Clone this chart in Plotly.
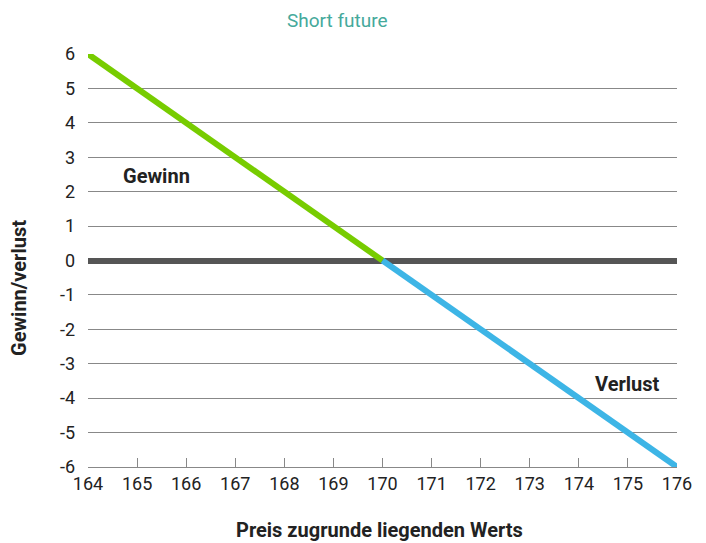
import plotly.graph_objects as go

x_gain = [164, 170]
y_gain = [6, 0]
x_loss = [170, 176]
y_loss = [0, -6]
x_ticks = list(range(164, 177))
y_ticks = list(range(-6, 7))

font_family = "Roboto, 'Noto Sans', sans-serif"

# page body has an 8px margin, so the figure is 8px smaller and margins shifted
L, R, T, B = 80, 29, 46, 76
W, H = 698, 535
plot_w = W - L - R
plot_h = H - T - B
OFF = 8


def px_x(page_x):
    return (page_x - OFF - L) / plot_w


def px_y(page_y):
    return 1 - (page_y - OFF - T) / plot_h


fig = go.Figure()
fig.add_trace(go.Scatter(x=x_gain, y=y_gain, mode="lines",
                         line=dict(color="#77cc00", width=6), cliponaxis=False,
                         hoverinfo="skip", showlegend=False))
fig.add_trace(go.Scatter(x=x_loss, y=y_loss, mode="lines",
                         line=dict(color="#3db5e6", width=6), cliponaxis=False,
                         hoverinfo="skip", showlegend=False))

fig.update_layout(
    width=W, height=H,
    margin=dict(l=L, r=R, t=T, b=B, autoexpand=False),
    paper_bgcolor="white", plot_bgcolor="white",
    font=dict(family=font_family, size=15, color="#222"),
    showlegend=False,
    annotations=[
        dict(text="Short future", x=px_x(337), y=px_y(OFF), borderpad=0,
             xref="paper", yref="paper",
             showarrow=False, font=dict(size=19, color="#45a99b"), xanchor="center", yanchor="top"),
        dict(text="<b>Preis zugrunde liegenden Werts</b>", x=px_x(379), y=px_y(530),
             xref="paper", yref="paper",
             showarrow=False, font=dict(size=20, color="#222"), xanchor="center", yanchor="middle"),
        dict(text="<b>Gewinn/verlust</b>", x=px_x(19), y=px_y(288), textangle=-90,
             xref="paper", yref="paper",
             showarrow=False, font=dict(size=20, color="#222"), xanchor="center", yanchor="middle"),
        dict(text="<b>Gewinn</b>", x=165.4, y=2.45, xref="x", yref="y", showarrow=False,
             font=dict(size=20, color="#222"), xanchor="center", yanchor="middle"),
        dict(text="<b>Verlust</b>", x=175.0, y=-3.6, xref="x", yref="y", showarrow=False,
             font=dict(size=20, color="#222"), xanchor="center", yanchor="middle"),
    ],
)
fig.update_xaxes(
    range=[164, 176], tickvals=x_ticks, ticktext=[str(v) for v in x_ticks],
    showgrid=False, zeroline=False, showline=True, linecolor="#888", linewidth=1,
    ticks="inside", ticklen=9, tickcolor="#888", tickwidth=1,
    tickfont=dict(size=18, color="#222"), automargin=False,
    fixedrange=True,
)
fig.update_yaxes(
    range=[-6, 6], tickvals=y_ticks, ticktext=[str(v) for v in y_ticks],
    showgrid=True, gridcolor="#888", gridwidth=1,
    zeroline=True, zerolinecolor="#555", zerolinewidth=6,
    showline=False, ticks="", ticklabelstandoff=12,
    tickfont=dict(size=18, color="#222"), automargin=False,
    fixedrange=True,
)

fig.write_html("out.html", config={"displayModeBar": False})
